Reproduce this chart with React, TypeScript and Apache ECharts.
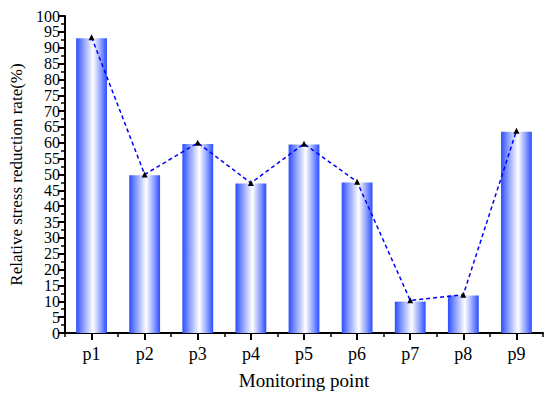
import React, { useEffect, useRef } from "react";
import * as echarts from "echarts";

const categories = ["p1", "p2", "p3", "p4", "p5", "p6", "p7", "p8", "p9"];
const barValues = [93.0, 49.8, 59.6, 47.2, 59.5, 47.5, 9.9, 11.8, 63.5];
const lineValues = [93.3, 50.0, 60.0, 47.3, 59.7, 47.7, 10.3, 12.1, 63.8];

const FONT = "'Liberation Serif', 'Times New Roman', serif";

export default function App() {
  const ref = useRef<HTMLDivElement>(null);
  useEffect(() => {
    if (!ref.current) return;
    const chart = echarts.init(ref.current, null, { renderer: "svg" });
    const grad = new echarts.graphic.LinearGradient(0, 0, 1, 0, [
      { offset: 0, color: "#2a4dff" },
      { offset: 0.2, color: "#7d92ff" },
      { offset: 0.55, color: "#ffffff" },
      { offset: 0.8, color: "#8ea0ff" },
      { offset: 1, color: "#2a4dff" },
    ]);
    chart.setOption({
      animation: false,
      textStyle: { fontFamily: FONT },
      grid: { left: 63, right: 7, top: 16, bottom: 63 },
      xAxis: [
        {
          type: "category",
          data: categories,
          name: "Monitoring point",
          nameLocation: "middle",
          nameGap: 38,
          nameTextStyle: { fontFamily: FONT, fontSize: 19, color: "#000" },
          axisLine: { lineStyle: { color: "#000", width: 2 } },
          axisTick: { show: true, alignWithLabel: true, length: 7, lineStyle: { color: "#000", width: 2 } },
          axisLabel: { fontFamily: FONT, fontSize: 18, color: "#000", margin: 12 },
          splitLine: { show: false },
        },
        {
          type: "category",
          data: categories,
          position: "bottom",
          axisLine: { show: false },
          axisTick: { show: true, alignWithLabel: false, length: 4, lineStyle: { color: "#000", width: 1.5 } },
          axisLabel: { show: false },
          splitLine: { show: false },
        },
      ],
      yAxis: {
        type: "value",
        min: 0,
        max: 100,
        interval: 5,
        name: "Relative stress reduction rate(%)",
        nameLocation: "middle",
        nameGap: 40,
        nameTextStyle: { fontFamily: FONT, fontSize: 17, color: "#000" },
        axisLine: { show: true, lineStyle: { color: "#000", width: 2 } },
        axisTick: { show: true, inside: false, length: 7, lineStyle: { color: "#000", width: 2 } },
        minorTick: { show: true, splitNumber: 2, length: 4, lineStyle: { color: "#000", width: 1.5 } },
        axisLabel: {
          fontFamily: FONT,
          fontSize: 16,
          color: "#000",
          margin: 5,
          showMinLabel: true,
          showMaxLabel: true,
          hideOverlap: false,
          lineHeight: 14,
        },
        splitLine: { show: false },
      },
      series: [
        {
          type: "bar",
          data: barValues,
          barWidth: "58%",
          itemStyle: { color: grad },
          z: 1,
        },
        {
          type: "line",
          data: lineValues,
          symbol: "triangle",
          symbolSize: 6,
          itemStyle: { color: "#000" },
          lineStyle: { color: "#0000ff", width: 1.5, type: [4, 3] },
          z: 3,
        },
      ],
    });
    return () => chart.dispose();
  }, []);
  return <div ref={ref} style={{ width: 550, height: 396, position: "absolute", left: 0, top: 0 }} />;
}
